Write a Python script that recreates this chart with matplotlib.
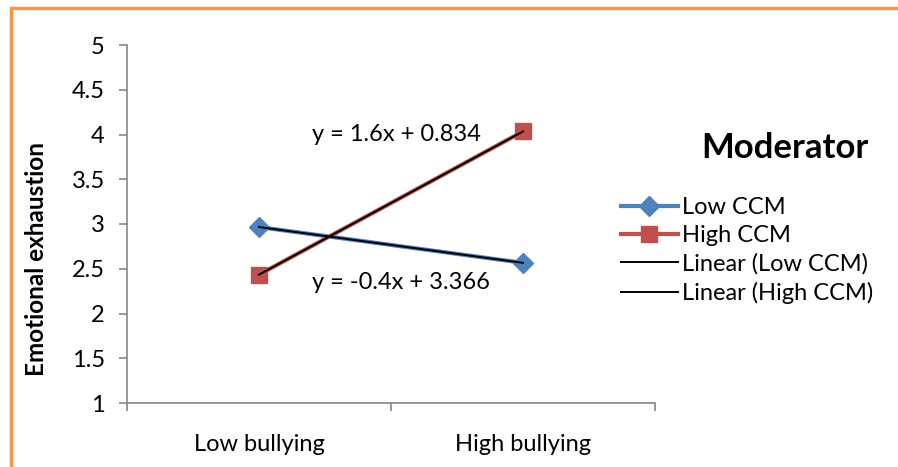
import numpy as np
import matplotlib
matplotlib.use("Agg")
import matplotlib.pyplot as plt
from matplotlib.patches import Rectangle

categories = ["Low bullying", "High bullying"]
low_ccm = [2.966, 2.566]
high_ccm = [2.434, 4.034]
eq_low = "y = -0.4x + 3.366"
eq_high = "y = 1.6x + 0.834"
yticks = [1, 1.5, 2, 2.5, 3, 3.5, 4, 4.5, 5]

plt.rcParams['font.family'] = ['Lato', 'DejaVu Sans']

fig = plt.figure(figsize=(8.98, 4.67), dpi=100)
ax = fig.add_axes([127/898, 1-403/467, 528/898, 358/467])

x = np.arange(1, len(categories)+1)
blue = '#4F81BD'
red = '#C0504D'
l1, = ax.plot(x, low_ccm, color=blue, lw=3, marker='D', ms=10, mec=blue, label='Low CCM')
l2, = ax.plot(x, high_ccm, color=red, lw=3, marker='s', ms=12, mec=red, label='High CCM')

# linear trendlines
p1 = np.polyfit(x, low_ccm, 1)
p2 = np.polyfit(x, high_ccm, 1)
t1, = ax.plot(x, np.polyval(p1, x), color='black', lw=1.4, label='Linear (Low CCM)')
t2, = ax.plot(x, np.polyval(p2, x), color='black', lw=1.4, label='Linear (High CCM)')

ax.text(1.2, 4.0, eq_high, fontsize=17, ha='left', va='center')
ax.text(1.2, 2.35, eq_low, fontsize=17, ha='left', va='center')

ax.set_xlim(0.5, 2.5)
ax.set_ylim(1, 5)
ax.set_yticks(yticks)
ax.set_yticklabels([f"{v:g}" for v in yticks], fontsize=17)
ax.set_xticks([0.5, 1.5, 2.5])
ax.set_xticklabels([])
ax.set_xticks(x, minor=True)
ax.set_xticklabels(categories, minor=True, fontsize=17)
ax.tick_params(axis='x', which='minor', length=0, pad=22)
ax.tick_params(axis='x', which='major', length=6, color='#868686', width=1.2)
ax.tick_params(axis='y', length=6, color='#868686', width=1.2, pad=10)
for s in ['top', 'right']:
    ax.spines[s].set_visible(False)
for s in ['left', 'bottom']:
    ax.spines[s].set_color('#868686')
    ax.spines[s].set_linewidth(1.2)

ax.set_ylabel("Emotional exhaustion", fontsize=17.5, fontweight='bold', va='center')
ax.yaxis.set_label_coords(-0.172, 0.402)

fig.text(785/898, 1-148/467, "Moderator", fontsize=25, fontweight='bold', ha='center', va='center')
fig.legend(handles=[l1, l2, t1, t2], loc='upper left', bbox_to_anchor=(621/898, 1-197/467),
           frameon=False, fontsize=17, handlelength=2.4, handletextpad=0.2,
           labelspacing=0.3, borderaxespad=0, borderpad=0)

fig.patches.append(Rectangle((11/898, -0.1), 1.2, 1.1 - 8/467, transform=fig.transFigure,
                             fill=False, edgecolor='#F79646', lw=2.5, zorder=10))

fig.savefig("out.png", dpi=100)
